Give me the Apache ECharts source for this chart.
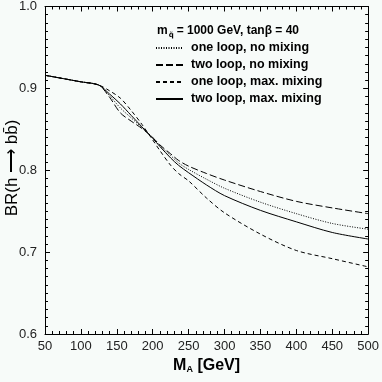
<!DOCTYPE html>
<html>
<head>
<meta charset="utf-8">
<script src="https://cdn.jsdelivr.net/npm/echarts@6/dist/echarts.min.js"></script>
<style>
html,body{margin:0;padding:0;background:#f7fbf9;}
#main{width:382px;height:382px;}
</style>
</head>
<body>
<div id="main"></div>
<script>
// M_A values [GeV]
var massA = [50, 75, 100, 125, 140, 155, 170, 185, 200, 210, 225, 236, 250, 275, 300, 350, 400, 450, 500];
// BR(h -> bb) for each curve
var oneLoopNoMix  = [0.916, 0.912, 0.908, 0.904, 0.891, 0.876, 0.864, 0.852, 0.840, 0.830, 0.818, 0.809, 0.801, 0.789, 0.778, 0.761, 0.747, 0.735, 0.728];
var twoLoopNoMix  = [0.916, 0.912, 0.908, 0.904, 0.889, 0.870, 0.860, 0.851, 0.840, 0.831, 0.820, 0.812, 0.805, 0.796, 0.788, 0.774, 0.762, 0.754, 0.747];
var oneLoopMaxMix = [0.916, 0.912, 0.908, 0.904, 0.897, 0.888, 0.873, 0.856, 0.837, 0.824, 0.806, 0.796, 0.787, 0.766, 0.748, 0.722, 0.702, 0.692, 0.682];
var twoLoopMaxMix = [0.916, 0.912, 0.908, 0.904, 0.893, 0.881, 0.867, 0.853, 0.839, 0.829, 0.815, 0.806, 0.797, 0.782, 0.769, 0.751, 0.737, 0.724, 0.716];
var seriesNames = ['one loop, no mixing', 'two loop, no mixing', 'one loop, max. mixing', 'two loop, max. mixing'];
var xTicks = [50, 100, 150, 200, 250, 300, 350, 400, 450, 500];
var yTicks = [0.6, 0.7, 0.8, 0.9, 1.0];

function pairs(ys){
    var out = [];
    for(var i = 0; i < massA.length; i++){
        out.push([massA[i], ys[i]]);
    }
    return out;
}

var chart = echarts.init(document.getElementById('main'));
var font = 'Liberation Sans';

function mkLine(name, ys, type){
    return {
        name: name,
        type: 'line',
        data: pairs(ys),
        smooth: 0.3,
        symbol: 'none',
        showSymbol: false,
        lineStyle: {color: '#000', width: 1, type: type},
        itemStyle: {color: '#000'}
    };
}

var xBase = {
    type: 'value', min: xTicks[0], max: xTicks[xTicks.length - 1], interval: 50,
    axisLine: {lineStyle: {color: '#000', width: 1}},
    axisTick: {inside: true, length: 5, lineStyle: {color: '#000'}},
    minorTick: {show: true, splitNumber: 5, length: 3, lineStyle: {color: '#000'}},
    splitLine: {show: false}
};
var yBase = {
    type: 'value', min: yTicks[0], max: yTicks[yTicks.length - 1], interval: 0.1,
    axisLine: {lineStyle: {color: '#000', width: 1}},
    axisTick: {inside: true, length: 5, lineStyle: {color: '#000'}},
    minorTick: {show: true, splitNumber: 10, length: 3, lineStyle: {color: '#000'}},
    splitLine: {show: false}
};

var option = {
    backgroundColor: '#f7fbf9',
    animation: false,
    grid: {left: 45, right: 11, top: 5, bottom: 48},
    title: {
        left: 157, top: 23, padding: 0,
        text: '{b|m}{s|q\u0303}{b|= 1000 GeV, tan}{n|\u03b2 = 40}',
        textStyle: {
            rich: {
                b: {fontFamily: font, fontSize: 12, fontWeight: 'bold', color: '#000'},
                s: {fontFamily: 'DejaVu Sans', fontSize: 7, color: '#000', verticalAlign: 'bottom', padding: [9, 3, 0, 1]},
                n: {fontFamily: font, fontSize: 12, color: '#000'}
            }
        }
    },
    legend: {
        orient: 'vertical', left: 155, top: 41, padding: 0,
        itemWidth: 27, itemHeight: 14, itemGap: 3,
        itemStyle: {opacity: 0},
        data: seriesNames,
        textStyle: {fontFamily: font, fontSize: 12.5, lineHeight: 14, fontWeight: 'bold', color: '#000', padding: [0, 0, 0, 3]}
    },
    xAxis: [
        Object.assign({}, xBase, {
            position: 'bottom',
            name: '{m|M}{s|A}{m| [GeV]}',
            nameLocation: 'middle', nameGap: 22,
            nameTextStyle: {
                rich: {
                    m: {fontFamily: font, fontSize: 16, fontWeight: 'bold', color: '#000'},
                    s: {fontFamily: font, fontSize: 9, fontWeight: 'bold', color: '#000', verticalAlign: 'bottom', padding: [8, 0, 0, 0]}
                }
            },
            axisLabel: {fontFamily: font, fontSize: 13, color: '#222', margin: 6}
        }),
        Object.assign({}, xBase, {position: 'top', axisLabel: {show: false}})
    ],
    yAxis: [
        Object.assign({}, yBase, {
            position: 'left',
            axisLabel: {fontFamily: font, fontSize: 13, color: '#222', margin: 8,
                formatter: function(v){ return v.toFixed(1); }}
        }),
        Object.assign({}, yBase, {position: 'right', axisLabel: {show: false}})
    ],
    graphic: [{
        type: 'text',
        x: 12, y: 168, rotation: Math.PI / 2,
        style: {
            text: 'BR(h \u27f6 bb\u0304)',
            fontFamily: font, fontSize: 17, fill: '#000',
            align: 'center', verticalAlign: 'middle'
        }
    }],
    series: [
        mkLine(seriesNames[0], oneLoopNoMix, [1, 1.5]),
        mkLine(seriesNames[1], twoLoopNoMix, [7, 3]),
        mkLine(seriesNames[2], oneLoopMaxMix, [4, 3]),
        mkLine(seriesNames[3], twoLoopMaxMix, 'solid')
    ]
};
chart.setOption(option);
</script>
</body>
</html>
